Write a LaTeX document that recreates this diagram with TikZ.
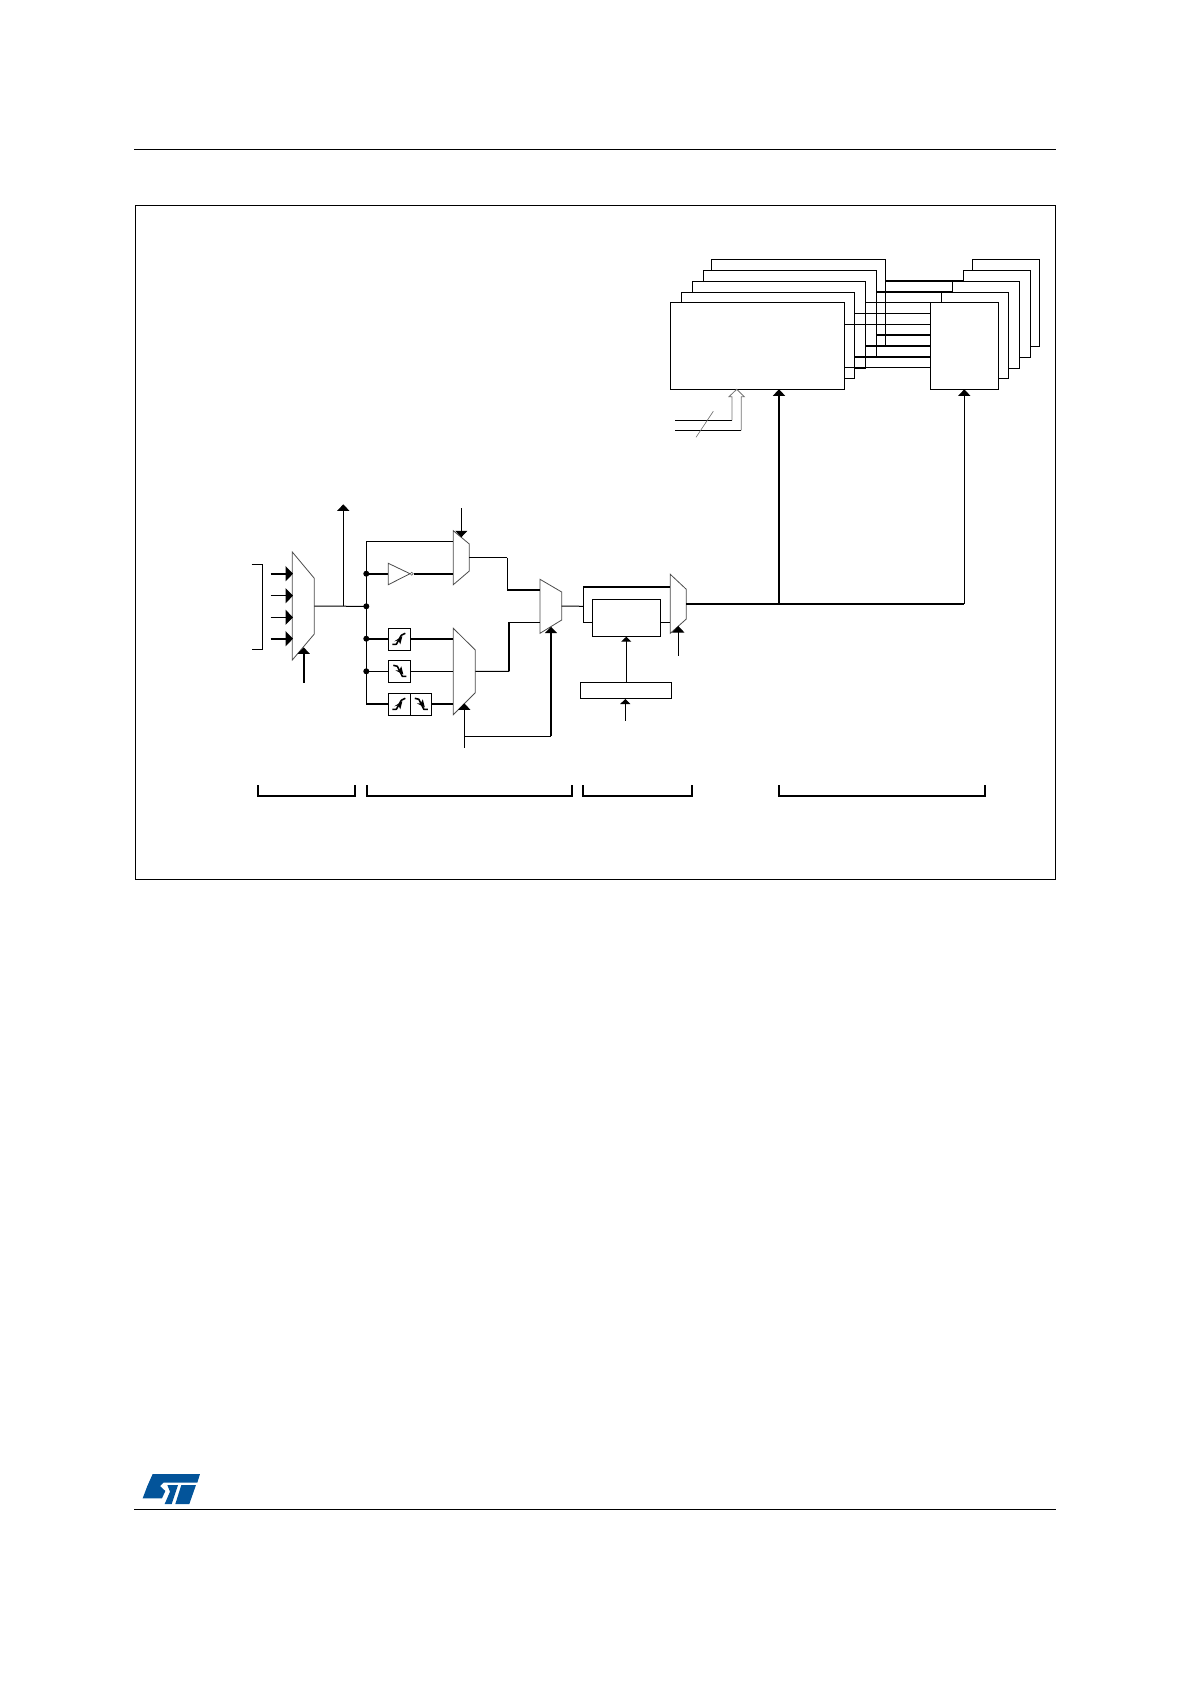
\documentclass[tikz,border=0pt]{standalone}
\usetikzlibrary{arrows.meta}
\definecolor{stblue}{HTML}{03549A}
\tikzset{
  thinw/.style={line width=1pt,black},
  thickw/.style={line width=2pt,black},
  blockbox/.style={draw=black,fill=white,line width=1pt,inner sep=0pt,outer sep=0pt},
  muxshape/.style={draw=black!70,fill=white,line width=0.8pt,line join=miter},
  bigtip/.style={-{Triangle[length=7.5pt,width=15pt]}},
  midtip/.style={-{Triangle[length=6.5pt,width=12pt]}},
  smalltip/.style={-{Triangle[length=5pt,width=10pt]}},
  bus/.style={circle,fill=black,inner sep=0pt,minimum size=6pt},
  hairline/.style={line width=0.6pt,black!60},
  edgeicon/.style={line width=1.6pt,black,line join=round},
  bracketw/.style={line width=1.8pt,black}
}
\newcommand{\blk}[5]{%
  \pgfmathsetmacro{\bwd}{#4-#2}\pgfmathsetmacro{\bht}{#5-#3}%
  \node[blockbox,minimum width=\bwd pt,minimum height=\bht pt] (#1) at ({(#2+#4)/2},{(#3+#5)/2}) {};}
% mux: name, xl, xr, ytl, ytr, ybr, ybl
\newcommand{\muxx}[7]{%
  \draw[muxshape] (#2,#4)--(#3,#5)--(#3,#6)--(#2,#7)--cycle;
  \coordinate (#1o) at (#3,{(#5+#6)/2});}
\newcommand{\rising}[2]{%
  \draw[edgeicon] (#1-7,#2+5)--(#1-3,#2+5)--(#1+2,#2-4)--(#1+6,#2-6);
  \fill (#1-5,#2+2)--(#1+3,#2-3)--(#1+1,#2+5)--(#1-1,#2+1)--cycle;}
\newcommand{\falling}[2]{%
  \draw[edgeicon] (#1-6,#2-6)--(#1-2,#2-5)--(#1+3,#2+5)--(#1+7,#2+5);
  \fill (#1-4,#2-1)--(#1+4,#2+3)--(#1+2,#2-5)--(#1,#2-1)--cycle;}
\begin{document}
\begin{tikzpicture}[x=1pt,y=-1pt]
\useasboundingbox (0,0) rectangle (1190,1684);
% page furniture
\coordinate (hl) at (134,149.3); \coordinate (hr) at (1056,149.3);
\draw[line width=1pt] (hl)--(hr);
\coordinate (fl) at (134,1509.3); \coordinate (fr) at (1056,1509.3);
\draw[line width=1pt] (fl)--(fr);
\node[draw=black,line width=1pt,inner sep=0pt,minimum width=920pt,minimum height=673.3pt] (frame) at (595.3,542.35) {};
% logo
\begin{scope}[shift={(120,1460)},x=0.3333pt,y=-0.3333pt]
\fill[stblue] (98,42)--(240,42)--(232,68)--(130,68)--(120,78)--(136,93)--(126,115)--(68,115)--(82,78)--cycle;
\fill[stblue] (142,75)--(174,75)--(155,132)--(134,132)--(150,95)--cycle;
\fill[stblue] (184,75)--(228,75)--(208,132)--(166,132)--cycle;
\end{scope}
% stacked channel blocks
\blk{c5}{711.3}{259.3}{885.3}{346}
\blk{c4}{703.3}{270.3}{876.7}{356.7}
\blk{c3}{692.3}{281.3}{865.3}{368.3}
\blk{c2}{681.3}{292.3}{854.3}{378.3}
\blk{r5}{972.3}{259.3}{1039.3}{346.3}
\blk{r4}{963.3}{270.3}{1030.3}{357.3}
\blk{r3}{952.3}{281.3}{1019.3}{368.3}
\blk{r2}{941.7}{292.3}{1008.7}{378.3}
% links between stacks
\draw[thickw] (c5.east |- 0,280.7)--(r4.west |- 0,280.7);
\draw[thickw] (c4.east |- 0,291.7)--(r3.west |- 0,291.7);
\blk{c1}{670.3}{302.3}{844.7}{389.3}
\blk{r1}{930.3}{302.3}{998.7}{389.3}
\draw[thinw] (c3.east |- 0,302.3)--(r1.north west);
\draw[thinw] (c2.east |- 0,313.3)--(r1.west |- 0,313.3);
\draw[thinw] (c1.east |- 0,324.3)--(r1.west |- 0,324.3);
\draw[thickw] (c4.east |- 0,335)--(r1.west |- 0,335);
\draw[thickw] (c3.east |- 0,346)--(r1.west |- 0,346);
\draw[thickw] (c2.east |- 0,357)--(r1.west |- 0,357);
\draw[thinw] (c1.east |- 0,367.3)--(r1.west |- 0,367.3);
\draw[thickw] (c2.east |- 0,368)--(c3.east |- 0,368);
% hollow bus arrow
\coordinate (bs1) at (675.3,420.3); \coordinate (bs2) at (675.3,430.3);
\coordinate (btip) at (736.7,389.3);
\draw[thinw] (bs1)--(732,420.3);
\draw[thinw] (bs2)--(741.3,430.3);
\draw[line width=0.8pt,black!55] (732,420.3)--(732,396.7)--(729,396.7)--(btip)--(744.3,396.7)--(741.3,396.7)--(741.3,430.3);
\draw[hairline] (696,437.3)--(713.3,411.3);
% input mux
\draw[thinw] (251.7,564.3)--(262.7,564.3)--(262.7,649.3)--(251.7,649.3);
\muxx{ma}{292.3}{314.3}{552}{578.3}{634}{660}
\coordinate (a1) at (270.7,573.7); \coordinate (a2) at (270.7,595.7);
\coordinate (a3) at (270.7,617.3); \coordinate (a4) at (270.7,638.7);
\draw[thickw,bigtip] (a1)--(293,573.7);
\draw[thinw,bigtip] (a2)--(293,595.7);
\draw[thinw,bigtip] (a3)--(293,617.3);
\draw[thickw,bigtip] (a4)--(293,638.7);
\coordinate (sa) at (303.7,682.7);
\draw[line width=1.6pt,midtip] (sa)--(303.7,647.3);
% input bus
\coordinate (j0) at (366.3,606.3);
\coordinate (j1) at (366.3,573.7); \coordinate (j2) at (366.3,638.7);
\coordinate (j3) at (366.3,671.3); \coordinate (jt) at (366.3,541.7);
\coordinate (jb) at (366.3,704);
\draw[thinw] (mao)--(j0);
\draw[thinw,midtip] (343.3,606.3)--(343.3,504.3);
\draw[thinw] (jt)--(jb);
% mux B (polarity)
\muxx{mb}{453.3}{469.3}{530.7}{544}{571}{584.7}
\draw[thinw] (jt)--(453.3,541.7);
\draw[thinw,midtip] (461.3,508.3)--(461.3,537.3);
\draw[thickw] (j1)--(388.3,573.7);
\draw[thickw] (413.5,573.7)--(453.3,573.7);
\draw[muxshape] (388.3,563.3)--(410,573.7)--(388.3,584.7)--cycle;
\draw[draw=black!65,fill=white,line width=0.5pt] (411.7,573.7) circle (1.5pt);
% mux C (edges)
\muxx{mc}{453.3}{475.3}{628.3}{650}{692.7}{714.7}
\blk{fa}{388.3}{628.3}{410.3}{650.3}
\blk{fb}{388.3}{660.3}{410.3}{682.3}
\blk{fc}{388.3}{693.3}{410.3}{715.3}
\blk{fd}{410.3}{693.3}{431.3}{715.3}
\rising{399.3}{639.3}
\falling{399.3}{671.3}
\rising{399.3}{704.3}
\falling{420.8}{704.3}
\draw[thickw] (j2)--(fa.west |- j2);
\draw[thickw] (fa.east |- j2)--(453.3,638.7);
\draw[thinw] (j3)--(fb.west |- j3);
\draw[thinw] (fb.east |- j3)--(453.3,671.3);
\draw[thickw] (jb)--(fc.west |- jb);
\draw[thickw] (fd.east |- jb)--(453.3,704);
% mux D
\muxx{md}{540}{561.7}{579.3}{592}{620}{633.3}
\coordinate (b1) at (507.3,557.7); \coordinate (b2) at (507.3,589.7);
\draw[thinw] (mbo |- b1)--(b1);
\draw[thinw] (b1)--(b2);
\draw[thickw] (b2)--(540,589.7);
\coordinate (c1a) at (509.3,671.3); \coordinate (c2a) at (509.3,622.3);
\draw[thinw] (mco)--(c1a);
\draw[thickw] (c1a)--(c2a);
\draw[thinw] (c2a)--(540,622.3);
\coordinate (sc) at (464.3,747.7); \coordinate (sd) at (464.3,736.3);
\draw[thinw,midtip] (sc)--(464.3,703.3);
\draw[thinw] (sd)--(551,736.3);
\draw[thickw,midtip] (551,736.3)--(551,626.7);
% divider and prescaler
\blk{cnt}{592.3}{599.3}{660.3}{636.3}
\blk{psc}{580.3}{682.3}{671.7}{698.3}
\muxx{me}{670.3}{686.3}{574.3}{589.3}{619}{633.3}
\coordinate (k0) at (583.3,606.3);
\draw[thinw] (mdo)--(k0);
\draw[thickw] (k0 |- 0,587)--(670.3,587);
\draw[thinw] (583.3,586.2)--(583.3,622.3)--(cnt.west |- 0,622.3);
\draw[thinw] (cnt.east |- 0,622.3)--(670.3,622.3);
\draw[thinw,smalltip] (psc.north -| 626.3,0)--(626.3,636.7);
\draw[thinw,smalltip] (625.3,720.7)--(625.3,699);
\draw[thinw,midtip] (678.3,655.7)--(678.3,626);
% clock distribution
\coordinate (ck) at (779,603.7);
\draw[thickw] (686.3,603.7)--(964.3,603.7);
\draw[thickw,midtip] (ck)--(c1.south -| ck);
\draw[thinw,midtip] (964.3,603.7)--(r1.south -| 964.3,0);
% group brackets
\draw[bracketw] (257.7,785)--(257.7,795.7)--(355.3,795.7)--(355.3,785);
\draw[bracketw] (366.7,785)--(366.7,795.7)--(572.3,795.7)--(572.3,785);
\draw[bracketw] (583.3,785)--(583.3,795.7)--(692.3,795.7)--(692.3,785);
\draw[bracketw] (778.7,785)--(778.7,795.7)--(985,795.7)--(985,785);
% junction dots
\foreach \p in {j0,j1,j2,j3} \node[bus] at (\p) {};
\end{tikzpicture}
\end{document}
